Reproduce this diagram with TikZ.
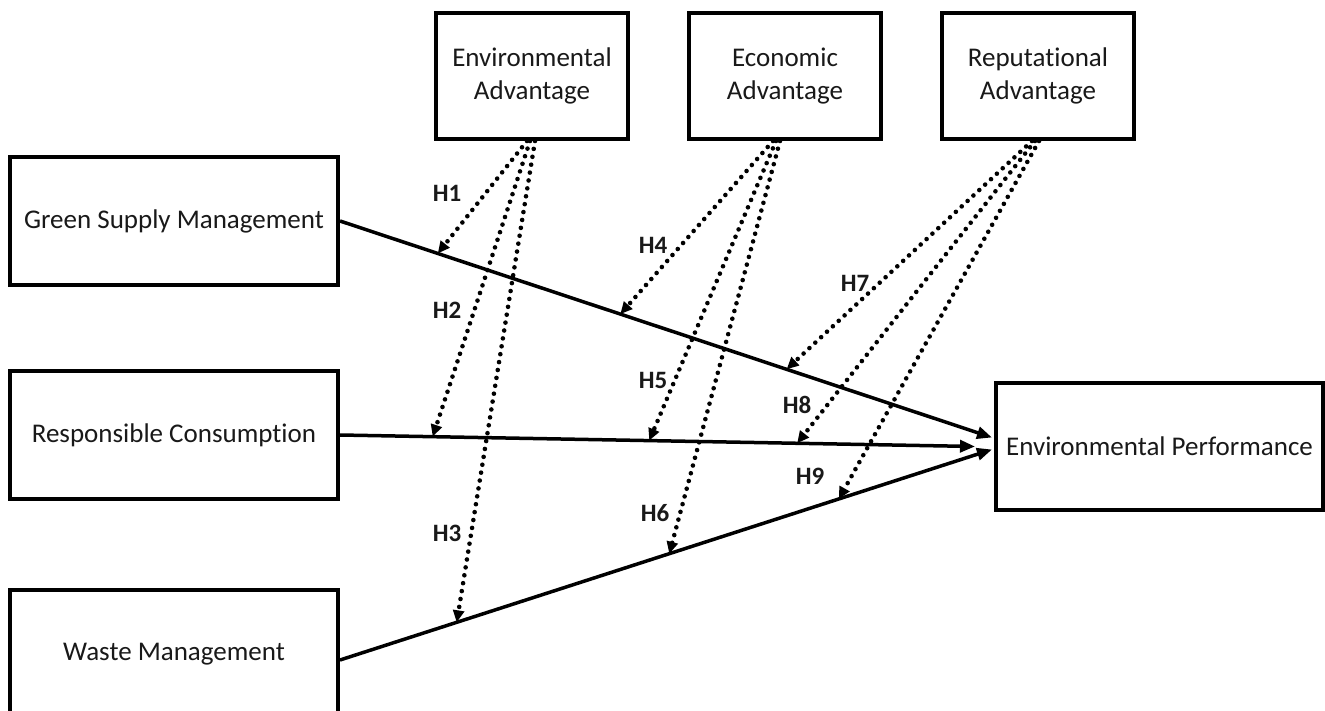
\documentclass[tikz,border=0pt]{standalone}
\usepackage{fontspec}
\setmainfont{Carlito}[Ligatures={NoCommon}]
\usetikzlibrary{arrows.meta,calc}
\begin{document}
\begin{tikzpicture}[x=1pt,y=-1pt,
  box/.style={draw,line width=4pt,minimum width=328pt,minimum height=128pt,inner sep=0pt,
    font=\fontsize{27}{33}\selectfont,align=center,text=black!90},
  topbox/.style={box,minimum width=192pt,minimum height=126pt},
  mainarrow/.style={line width=3.5pt,-{Triangle[length=15pt,width=12pt]}},
  dotarrow/.style={line width=4.6pt,dash pattern=on 0pt off 8pt,line cap=round,
    -{Triangle[length=12pt,width=11pt]}},
  hlab/.style={font=\fontsize{25}{29}\selectfont\bfseries,text=black!90}]
\clip (0,0) rectangle (1325,711);
\fill[white] (0,0) rectangle (1325,711);

% nodes
\node[box] (gsm) at (174,221) {Green Supply Management};
\node[box] (rc)  at (174,435) {Responsible Consumption};
\node[box] (wm)  at (174,654) {Waste Management};
\node[topbox] (ea)  at (532,76) {Environmental\\Advantage};
\node[topbox] (eco) at (785,76) {Economic\\Advantage};
\node[topbox] (rep) at (1038,76) {Reputational\\Advantage};
\node[box,minimum width=327pt,minimum height=127pt] (ep) at (1159.5,446.5) {Environmental Performance};

% end coordinates on the outcome box
\coordinate (t1) at ($(ep.west)+(-2,-9)$);
\coordinate (t2) at ($(ep.west)+(-19,0)$);
\coordinate (t3) at ($(ep.west)+(-2,3)$);
\coordinate (s3) at ($(wm.east)+(0,6)$);

% main paths
\draw[mainarrow] (gsm.east) -- (t1)
  coordinate[pos=0.15] (g1) coordinate[pos=0.43] (g2) coordinate[pos=0.685] (g3);
\draw[mainarrow] (rc.east) -- (t2)
  coordinate[pos=0.146] (r1) coordinate[pos=0.487] (r2) coordinate[pos=0.72] (r3);
\draw[mainarrow] (s3) -- (t3)
  coordinate[pos=0.179] (w1) coordinate[pos=0.505] (w2) coordinate[pos=0.765] (w3);

% moderating paths
\draw[dotarrow] ($(ea.south)+(-5,0)$) -- (g1);
\draw[dotarrow] ($(ea.south)+(-2,0)$) -- (r1);
\draw[dotarrow] ($(ea.south)+(3,0)$) -- (w1);
\draw[dotarrow] ($(eco.south)+(-12,0)$) -- (g2);
\draw[dotarrow] ($(eco.south)+(-9,0)$) -- (r2);
\draw[dotarrow] ($(eco.south)+(-5,0)$) -- (w2);
\draw[dotarrow] ($(rep.south)+(-6,0)$) -- (g3);
\draw[dotarrow] ($(rep.south)+(-3,0)$) -- (r3);
\draw[dotarrow] ($(rep.south)+(1,0)$) -- (w3);

% labels
\node[hlab] (h1) at (447,193) {H1};
\node[hlab] (h2) at (447,310) {H2};
\node[hlab] (h3) at (447,533) {H3};
\node[hlab] (h4) at (653,245) {H4};
\node[hlab] (h5) at (653,380) {H5};
\node[hlab] (h6) at (655,513) {H6};
\node[hlab] (h7) at (855,283) {H7};
\node[hlab] (h8) at (797,405) {H8};
\node[hlab] (h9) at (810,476) {H9};
\end{tikzpicture}
\end{document}
